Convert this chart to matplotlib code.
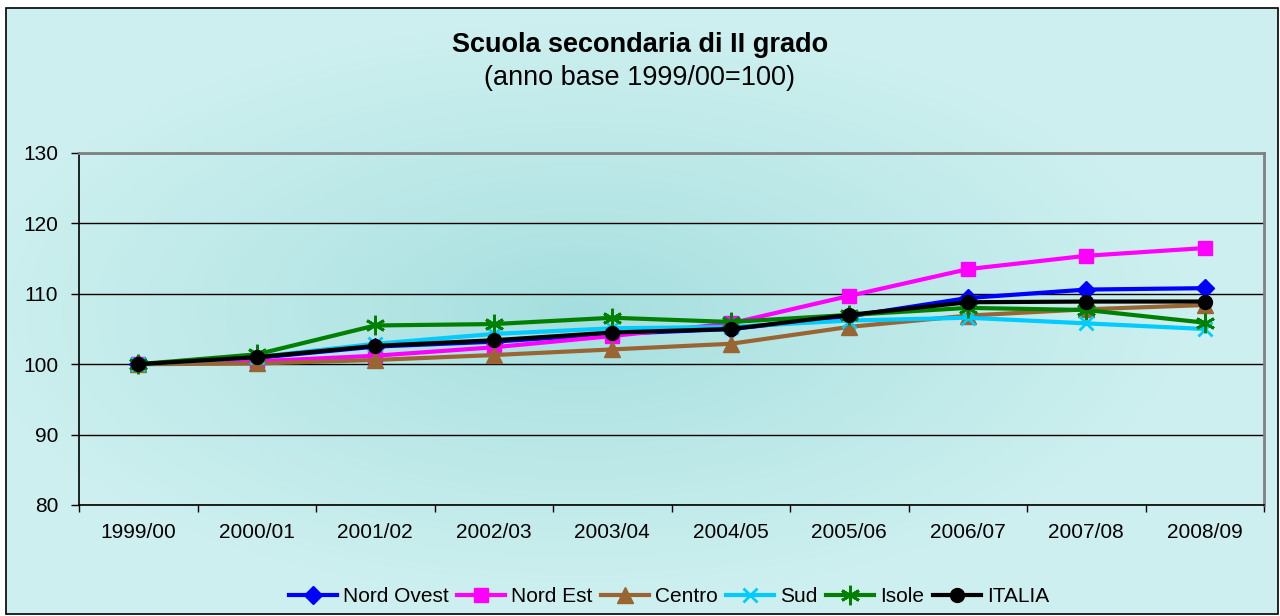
import numpy as np
import matplotlib
matplotlib.use("Agg")
import matplotlib.pyplot as plt
from matplotlib.patches import Rectangle

years = ["1999/00", "2000/01", "2001/02", "2002/03", "2003/04",
         "2004/05", "2005/06", "2006/07", "2007/08", "2008/09"]
nord_ovest = [100, 100.9, 102.5, 103.2, 104.3, 105.0, 106.8, 109.4, 110.6, 110.8]
nord_est = [100, 100.4, 101.2, 102.4, 104.0, 105.8, 109.7, 113.5, 115.4, 116.5]
centro = [100, 100.1, 100.6, 101.3, 102.1, 102.9, 105.3, 106.9, 107.8, 108.4]
sud = [100, 101.0, 102.9, 104.3, 105.1, 105.3, 106.2, 106.6, 105.8, 105.0]
isole = [100, 101.4, 105.5, 105.7, 106.6, 106.0, 107.0, 108.0, 107.7, 105.9]
italia = [100, 101.0, 102.6, 103.4, 104.5, 105.0, 107.0, 108.8, 108.9, 108.9]

series = [
    ("Nord Ovest", nord_ovest, "#0000ff", "D", 9),
    ("Nord Est", nord_est, "#ff00ff", "s", 10),
    ("Centro", centro, "#996633", "^", 11),
    ("Sud", sud, "#00ccff", "x", 10),
    ("Isole", isole, "#008000", "*", 0),
    ("ITALIA", italia, "#000000", "o", 10),
]

plt.rcParams['font.family'] = ['Liberation Sans', 'DejaVu Sans']

W, H = 1280, 616
fig = plt.figure(figsize=(W / 100, H / 100), dpi=100)
fig.patch.set_facecolor("white")

# background gradient (figure-wide)
bg = fig.add_axes([6 / W, 1 - 614 / H, 1272 / W, 606 / H])
bg.set_axis_off()
yy, xx = np.mgrid[0:1:300j, 0:1:600j]
r = np.sqrt(((xx - 0.45) / 0.5) ** 2 + ((yy - 0.5) / 0.5) ** 2)
t = np.clip(r, 0, 1) ** 0.8
c_in = np.array([0.64, 0.87, 0.87])
c_out = np.array([0.81, 0.94, 0.94])
img = c_in[None, None, :] * (1 - t[..., None]) + c_out[None, None, :] * t[..., None]
bg.imshow(img, extent=[0, 1, 0, 1], aspect="auto", zorder=0)
bg.set_xlim(0, 1)
bg.set_ylim(0, 1)
fig.add_artist(Rectangle((6 / W, 1 - 614 / H), 1272 / W, 606 / H,
                         transform=fig.transFigure, fill=False,
                         edgecolor="black", linewidth=1.2))

left, right, top, bottom = 79, 1264, 153, 505
ax = fig.add_axes([left / W, 1 - bottom / H, (right - left) / W, (bottom - top) / H])
ax.set_facecolor("none")
x = np.arange(len(years))

for name, vals, col, mk, ms in series:
    if mk == "*":
        ax.plot(x, vals, color=col, lw=3, marker=(6, 2, 0), ms=14, mew=2,
                mec=col, label=name, zorder=3)
    elif mk == "x":
        ax.plot(x, vals, color=col, lw=3, marker="x", ms=ms, mew=2,
                label=name, zorder=3)
    else:
        ax.plot(x, vals, color=col, lw=3, marker=mk, ms=ms, mec=col, mfc=col,
                label=name, zorder=3)

ax.set_xlim(-0.5, len(years) - 0.5)
ax.set_ylim(80, 130)
ax.set_yticks([80, 90, 100, 110, 120, 130])
ax.yaxis.grid(True, color="black", lw=1)
ax.set_axisbelow(True)
ax.set_xticks(x)
ax.set_xticklabels(years)
ax.set_xticks(np.arange(-0.5, len(years)), minor=True)
ax.tick_params(axis="x", which="major", length=0, pad=13, labelsize=15)
ax.tick_params(axis="x", which="minor", length=5, width=1, direction="out")
ax.tick_params(axis="y", length=6, width=1, direction="out", labelsize=15, pad=9)
for s in ["top", "right"]:
    ax.spines[s].set_color("#808080")
    ax.spines[s].set_linewidth(2)
for s in ["left", "bottom"]:
    ax.spines[s].set_color("black")
    ax.spines[s].set_linewidth(1.2)

fig.text(0.5, 1 - 45 / H, "Scuola secondaria di II grado", ha="center", va="center",
         fontsize=19.5, fontweight="bold")
fig.text(0.5, 1 - 78 / H, "(anno base 1999/00=100)", ha="center", va="center",
         fontsize=19.5)

handles, labels = ax.get_legend_handles_labels()
fig.legend(handles, labels, loc="center", bbox_to_anchor=(669 / W, 1 - 597 / H),
           ncol=6, frameon=False, fontsize=15, handlelength=2.3,
           columnspacing=0.4, handletextpad=0.3)

fig.savefig("out.png", dpi=100)
